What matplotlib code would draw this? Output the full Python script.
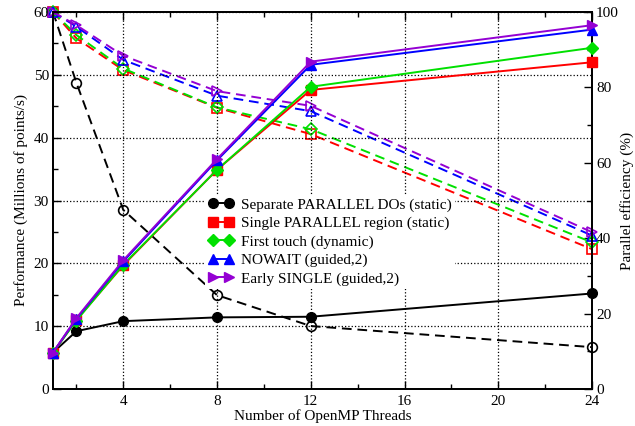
import matplotlib
matplotlib.use("Agg")
import matplotlib.pyplot as plt
from matplotlib.ticker import MultipleLocator, FixedLocator

plt.rcParams['font.family'] = ['Liberation Serif', 'DejaVu Serif']

threads = [1, 2, 4, 8, 12, 24]

labels = ["Separate PARALLEL DOs (static)",
          "Single PARALLEL region (static)",
          "First touch (dynamic)",
          "NOWAIT (guided,2)",
          "Early SINGLE (guided,2)"]

perf_separate = [5.8, 9.2, 10.8, 11.4, 11.5, 15.2]
perf_single   = [5.8, 11.0, 19.7, 34.9, 47.6, 52.0]
perf_first    = [5.8, 10.9, 19.8, 34.9, 48.1, 54.3]
perf_nowait   = [5.8, 11.2, 20.3, 36.4, 51.6, 57.2]
perf_early    = [5.8, 11.3, 20.5, 36.6, 52.1, 57.9]

eff_separate = [100, 81.2, 47.5, 24.9, 16.7, 11.1]
eff_single   = [100, 93.0, 84.6, 74.6, 67.6, 37.1]
eff_first    = [100, 93.9, 85.0, 74.7, 68.9, 38.9]
eff_nowait   = [100, 96.1, 87.3, 77.8, 73.7, 40.7]
eff_early    = [100, 96.5, 88.4, 79.0, 75.1, 41.6]

perfs = [perf_separate, perf_single, perf_first, perf_nowait, perf_early]
effs = [eff_separate, eff_single, eff_first, eff_nowait, eff_early]
colors = ['black', '#ff0000', '#00e000', '#0000ff', '#9400d3']
markers = ['o', 's', 'D', '^', '>']
msizes = [7, 6.5, 6, 7, 7.5]

fig = plt.figure(figsize=(6.35, 4.26), dpi=100)
ax = fig.add_axes([53/635, 37/426, 539/635, 377/426])
ax2 = ax.twinx()

for p, c, m, ms, lab in zip(perfs, colors, markers, msizes, labels):
    ax.plot(threads, p, color=c, marker=m, markersize=ms, lw=1.4,
            label=lab, zorder=3, clip_on=False)
for e, c, m, ms in zip(effs, colors, markers, msizes):
    ax2.plot(threads, e, color=c, marker=m, markersize=ms, lw=1.4,
             ls=(0, (5, 3)), mfc='none', mew=1.2, zorder=3, clip_on=False)

ax.set_xlim(1, 24)
ax.set_ylim(0, 60)
ax2.set_ylim(0, 100)

ax.xaxis.set_major_locator(FixedLocator([4, 8, 12, 16, 20, 24]))
ax.xaxis.set_minor_locator(FixedLocator([2, 6, 10, 14, 18, 22]))
ax.yaxis.set_major_locator(MultipleLocator(10))
ax.yaxis.set_minor_locator(MultipleLocator(5))
ax2.yaxis.set_major_locator(MultipleLocator(20))
ax2.yaxis.set_minor_locator(MultipleLocator(10))

fs = 11
ax.tick_params(axis='x', which='both', direction='in', top=True, bottom=True,
               labelsize=fs, pad=4)
ax.tick_params(axis='y', which='both', direction='in', left=True, right=False,
               labelsize=fs, pad=3)
ax.tick_params(which='major', length=6, width=1)
ax.tick_params(which='minor', length=3.5, width=1)
ax2.tick_params(axis='y', which='both', direction='in', labelsize=fs, pad=3)
ax2.tick_params(which='major', length=6, width=1)
ax2.tick_params(which='minor', length=3.5, width=1)

ax.grid(True, which='major', ls=':', color='black', lw=0.9)
ax.set_axisbelow(True)
for a in (ax, ax2):
    for s in a.spines.values():
        s.set_linewidth(1.3)

ax.set_xlabel("Number of OpenMP Threads", fontsize=fs, labelpad=1)
ax.set_ylabel("Performance (Millions of points/s)", fontsize=fs, labelpad=4)
ax2.set_ylabel("Parallel efficiency (%)", fontsize=fs, rotation=90, labelpad=1)

ax2.set_zorder(1)
ax.set_zorder(2)
ax.patch.set_visible(False)

leg = ax.legend(loc='upper left', bbox_to_anchor=(0.282, 0.515), fontsize=fs,
                numpoints=2, handlelength=1.7, handletextpad=0.45,
                labelspacing=0.3, frameon=True, fancybox=False,
                borderpad=0.2, borderaxespad=0)
leg.get_frame().set_facecolor('white')
leg.get_frame().set_edgecolor('none')
leg.get_frame().set_alpha(1)

fig.savefig("out.png", dpi=100)
